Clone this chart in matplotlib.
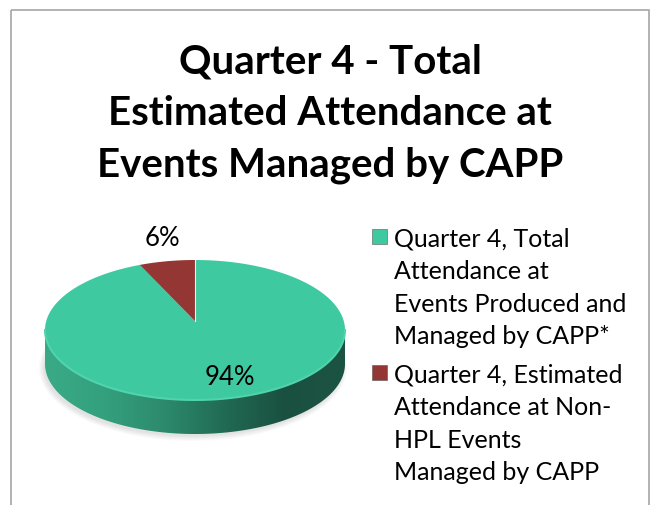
import numpy as np
import matplotlib.pyplot as plt
from matplotlib.patches import Polygon, Rectangle, Ellipse
from matplotlib.colors import LinearSegmentedColormap

plt.rcParams['font.family'] = ['Lato', 'DejaVu Sans']

title_lines = ['Quarter 4 - Total', 'Estimated Attendance at', 'Events Managed by CAPP']
values = [94, 6]
colors = ['#3fc9a0', '#943634']
legend_lines = [
    ['Quarter 4, Total', 'Attendance at', 'Events Produced and', 'Managed by CAPP*'],
    ['Quarter 4, Estimated', 'Attendance at Non-', 'HPL Events', 'Managed by CAPP'],
]
side_stops = ['#3aaa86', '#34a07d', '#2c8a6b', '#216a53', '#1a5040', '#1c5443']

W, H = 652, 506
fig = plt.figure(figsize=(W / 100, H / 100), dpi=100)
ax = fig.add_axes([0, 0, 1, 1])
ax.set_xlim(0, W)
ax.set_ylim(H, 0)
ax.axis('off')

# chart border
ax.add_patch(Rectangle((11, 11), 638, 520, fill=False, ec='#a6a6a6', lw=1.2))

# title
for i, line in enumerate(title_lines):
    ax.text(330, 73 + i * 51.5, line, ha='center', va='baseline',
            fontsize=29, fontweight='bold', color='black')

# pie geometry (pixels)
cx, cy, rx, ry, depth = 195, 331, 150, 70, 34
apex_y = 322


def ell(t):
    t = np.radians(t)
    return cx + rx * np.cos(t), cy - ry * np.sin(t)


# soft shadow
for k in range(6):
    ax.add_patch(Ellipse((cx - 2, cy + depth + 4), 2 * rx + 8 - 2 * k, 2 * ry + 6 - 2 * k,
                         fc='#808080', ec='none', alpha=0.04, zorder=1))

# side wall with gradient
t = np.linspace(180, 360, 200)
xt, yt = ell(t)
side_xy = np.column_stack([np.r_[xt, xt[::-1]], np.r_[yt, yt[::-1] + depth]])
side = Polygon(side_xy, closed=True, fc='none', ec='none')
ax.add_patch(side)
cmap = LinearSegmentedColormap.from_list('side', side_stops)
grad = np.linspace(0, 1, 256)[None, :]
im = ax.imshow(grad, cmap=cmap, aspect='auto', zorder=2,
               extent=(cx - rx, cx + rx, cy + ry + depth, cy - ry))
im.set_clip_path(side)
ax.set_xlim(0, W)
ax.set_ylim(H, 0)

# top face wedges, clockwise from 12 o'clock
start = 90.0
for v, c in zip(values, colors):
    sweep = 360.0 * v / sum(values)
    ts = np.linspace(start, start - sweep, 300)
    xs, ys = ell(ts)
    xy = np.column_stack([np.r_[cx, xs], np.r_[apex_y, ys]])
    ax.add_patch(Polygon(xy, closed=True, fc=c, ec='none', zorder=3))
    start -= sweep
# wedge separator and front rim highlight
ax.plot([cx, cx], [apex_y, cy - ry], color='#e6f7f1', lw=0.8, zorder=4)
rt = np.linspace(180, 360, 200)
ax.plot(*ell(rt), color='#4fd4ac', lw=1.5, zorder=4)

# percent labels
label_pos = [(230, 385), (162, 246)]
for v, (lx, ly) in zip(values, label_pos):
    ax.text(lx, ly, f'{round(100 * v / sum(values))}%', ha='center', va='baseline',
            fontsize=18.5, color='black', zorder=5)

# legend
leg_top = [247, 383]
for lines, c, y0 in zip(legend_lines, colors, leg_top):
    ax.add_patch(Rectangle((372, y0 - 17), 15, 15, fc=c, ec='#555555', lw=0.4, zorder=5))
    for j, line in enumerate(lines):
        ax.text(394, y0 + j * 32.3, line, ha='left', va='baseline',
                fontsize=18, color='black')

fig.savefig('out.png', dpi=100)
